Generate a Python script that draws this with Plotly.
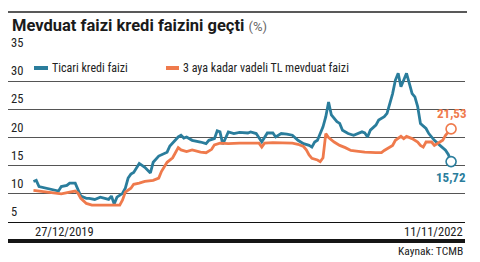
import pandas as pd
import plotly.graph_objects as go

# ---- data ----
start_date = "2019-12-27"
series_names = ["Ticari kredi faizi", "3 aya kadar vadeli TL mevduat faizi"]

# week offsets from 27/12/2019
kredi_weeks = [0, 1, 2, 4, 6, 8, 9, 10, 12, 13, 15, 17, 19, 20, 22, 24, 26, 27, 28, 29,
               30, 32, 33, 34, 35, 36, 38, 40, 42, 43, 45, 48, 49, 50, 52, 53, 54, 55, 57, 60,
               62, 63, 65, 66, 67, 68, 70, 72, 74, 77, 78, 80, 82, 84, 86, 87, 89, 91, 93, 95,
               97, 99, 100, 101, 102, 104, 105, 106, 107, 109, 110, 111, 113, 115, 118, 119, 120, 121, 123, 124,
               126, 127, 128, 129, 130, 131, 132, 134, 135, 136, 137, 138, 139, 141, 142, 144, 146, 148, 149, 150]
kredi_values = [12.2, 12.4, 11.3, 11.1, 10.8, 10.6, 10.5, 11.3, 11.5, 11.9, 11.9, 9.6, 9.2, 9.2, 9.0, 9.4, 9.2, 9.0, 9.6, 8.2,
                9.4, 10.1, 11.0, 12.8, 13.5, 13.8, 15.4, 14.7, 13.7, 15.6, 16.7, 17.4, 18.5, 19.0, 20.1, 20.4, 19.9, 20.1, 19.5, 19.2,
                18.9, 19.5, 19.8, 21.2, 21.0, 18.8, 21.0, 20.7, 20.9, 20.8, 21.0, 20.7, 19.2, 20.8, 20.8, 20.1, 20.7, 20.6, 20.4, 19.5,
                18.9, 18.6, 18.3, 19.2, 19.5, 21.9, 23.7, 26.3, 24.0, 22.8, 22.5, 21.3, 20.7, 20.4, 21.0, 20.8, 20.1, 21.3, 22.2, 23.1,
                23.7, 24.3, 26.1, 27.8, 30.2, 31.4, 29.0, 31.4, 29.6, 27.8, 27.2, 25.5, 22.5, 21.6, 20.7, 19.5, 18.6, 17.75, 17.0, 15.72]

mevduat_weeks = [0, 2, 4, 8, 10, 13, 15, 16, 17, 19, 21, 24, 27, 31, 32, 33, 35, 36, 38, 40,
                 43, 45, 46, 48, 50, 52, 53, 55, 57, 60, 62, 64, 65, 67, 70, 72, 74, 78, 81, 82,
                 83, 86, 89, 93, 95, 97, 98, 99, 100, 102, 103, 104, 105, 106, 108, 110, 112, 114, 116, 119,
                 123, 125, 126, 127, 129, 130, 132, 133, 134, 136, 138, 139, 140, 141, 143, 144, 146, 147, 148, 150]
mevduat_values = [10.6, 10.5, 10.3, 10.1, 10.0, 10.3, 10.5, 10.1, 9.2, 8.3, 8.0, 8.0, 8.0, 8.0, 8.9, 10.3, 11.0, 11.7, 11.9, 12.2,
                  12.4, 12.8, 14.0, 15.6, 16.4, 18.2, 17.8, 17.5, 17.8, 17.4, 17.3, 17.9, 18.7, 19.0, 18.9, 19.0, 19.0, 19.0, 19.0, 18.3,
                  19.0, 19.1, 19.1, 19.0, 18.8, 18.4, 17.8, 16.9, 16.3, 16.0, 15.7, 16.4, 20.7, 20.0, 19.2, 18.6, 18.2, 17.7, 17.6, 17.4,
                  17.3, 17.3, 17.7, 18.0, 18.6, 19.5, 20.2, 19.8, 20.2, 19.8, 19.2, 18.6, 18.3, 19.2, 19.2, 18.6, 19.2, 19.5, 20.4, 21.53]

y_ticks = [5, 10, 15, 20, 25, 30, 35]
date_labels = ["27/12/2019", "11/11/2022"]
title_text = "Mevduat faizi kredi faizini geçti"
unit_text = "(%)"
source_text = "Kaynak: TCMB"

# ---- styling ----
BLUE = "#2a7d9c"
ORANGE = "#ef7a4c"
GRID = "#555555"
FONT = "Liberation Sans Narrow, Roboto Condensed, Arial Narrow, sans-serif"
TFONT = "Roboto, Lato, sans-serif"

t0 = pd.Timestamp(start_date)
kredi_dates = [t0 + pd.Timedelta(days=7 * w) for w in kredi_weeks]
mevduat_dates = [t0 + pd.Timedelta(days=7 * w) for w in mevduat_weeks]

W, H = 480, 262
ML, MR, MT, MB = 8, 15, 53, 40
PW, PH = W - ML - MR, H - MT - MB

def px_x(p):
    return (p - ML) / PW

def px_y(p):
    return (H - MB - p) / PH

x0 = t0 + pd.Timedelta(days=-64)
x1 = t0 + pd.Timedelta(days=1085)

fig = go.Figure()
fig.add_trace(go.Scatter(x=kredi_dates, y=kredi_values, mode="lines", name=series_names[0],
                         line=dict(color=BLUE, width=2.8), hoverinfo="skip"))
fig.add_trace(go.Scatter(x=mevduat_dates, y=mevduat_values, mode="lines", name=series_names[1],
                         line=dict(color=ORANGE, width=2.8), hoverinfo="skip"))
# end markers
fig.add_trace(go.Scatter(x=[kredi_dates[-1]], y=[kredi_values[-1]], mode="markers",
                         marker=dict(size=10, color="white", line=dict(color=BLUE, width=1.6)),
                         showlegend=False, hoverinfo="skip"))
fig.add_trace(go.Scatter(x=[mevduat_dates[-1]], y=[mevduat_values[-1]], mode="markers",
                         marker=dict(size=10, color="white", line=dict(color=ORANGE, width=1.6)),
                         showlegend=False, hoverinfo="skip"))

def fmt(v):
    return f"{v:.2f}".replace(".", ",")

annotations = [
    dict(x=kredi_dates[-1], y=kredi_values[-1], text=f"<b>{fmt(kredi_values[-1])}</b>", showarrow=False,
         xanchor="center", yanchor="top", yshift=-6, font=dict(family=FONT, size=13, color=BLUE)),
    dict(x=mevduat_dates[-1], y=mevduat_values[-1], text=f"<b>{fmt(mevduat_values[-1])}</b>", showarrow=False,
         xanchor="center", yanchor="bottom", yshift=6, font=dict(family=FONT, size=13, color=ORANGE)),
    dict(x=kredi_dates[0], y=0, xref="x", yref="paper", yshift=-9, text=date_labels[0], showarrow=False,
         xanchor="left", yanchor="middle", font=dict(family=FONT, size=12.5, color="#222")),
    dict(x=kredi_dates[-1], y=0, xref="x", yref="paper", yshift=-9, xshift=14, text=date_labels[1], showarrow=False,
         xanchor="right", yanchor="middle", font=dict(family=FONT, size=12.5, color="#222")),
    dict(x=1, y=0, xref="paper", yref="paper", yshift=-29, text=source_text, showarrow=False,
         xanchor="right", yanchor="middle", font=dict(family=FONT, size=11.5, color="#222")),
    dict(x=px_x(10), y=px_y(25), xref="paper", yref="paper",
         text=f"<b>{title_text}</b> <span style='font-size:13px;color:#666'>{unit_text}</span>",
         showarrow=False, xanchor="left", yanchor="middle", font=dict(family=TFONT, size=16.5, color="#1a1a1a")),
    dict(x=px_x(50), y=px_y(68), xref="paper", yref="paper", showarrow=False,
         text=series_names[0], xanchor="left", yanchor="middle",
         font=dict(family=FONT, size=12, color="#222")),
    dict(x=px_x(181), y=px_y(68), xref="paper", yref="paper", showarrow=False,
         text=series_names[1], xanchor="left", yanchor="middle",
         font=dict(family=FONT, size=12, color="#222")),
]
# y tick labels sitting above their grid lines, at the left edge
for v in y_ticks:
    annotations.append(dict(x=0, y=v, xref="paper", yref="y", text=str(v), showarrow=False,
                            xanchor="left", yanchor="bottom", xshift=1, yshift=1,
                            font=dict(family=FONT, size=12.5, color="#222")))

shapes = [
    dict(type="line", xref="paper", yref="paper", x0=0, x1=px_x(467), y0=px_y(12), y1=px_y(12),
         line=dict(color="#222", width=1.3)),
    dict(type="line", xref="paper", yref="paper", x0=0, x1=1, y0=px_y(241), y1=px_y(241),
         line=dict(color="#151515", width=4)),
    dict(type="line", xref="paper", yref="paper", x0=px_x(34), x1=px_x(48), y0=px_y(68), y1=px_y(68),
         line=dict(color=BLUE, width=4)),
    dict(type="line", xref="paper", yref="paper", x0=px_x(166), x1=px_x(179), y0=px_y(68), y1=px_y(68),
         line=dict(color=ORANGE, width=4)),
]

fig.update_layout(
    width=W, height=H, margin=dict(l=ML, r=MR, t=MT, b=MB),
    paper_bgcolor="white", plot_bgcolor="white", showlegend=False,
    annotations=annotations, shapes=shapes,
    xaxis=dict(type="date", range=[x0, x1], showgrid=False, showticklabels=False, zeroline=False,
               showline=True, linecolor="#111", linewidth=1, ticks=""),
    yaxis=dict(range=[5, 35], tickvals=y_ticks[1:], showticklabels=False,
               showgrid=True, gridcolor=GRID, gridwidth=1, zeroline=False, showline=False,
               ticks=""),
)

fig.write_html("out.html")
